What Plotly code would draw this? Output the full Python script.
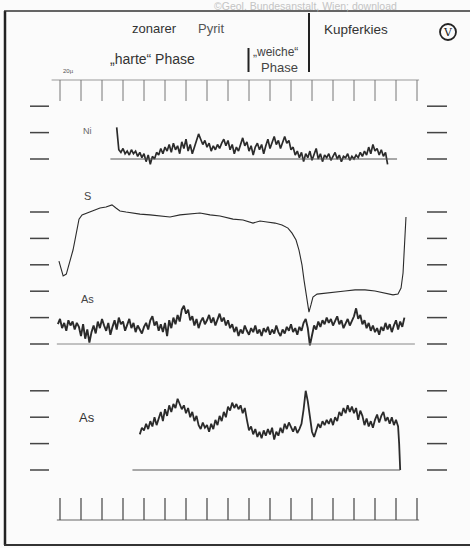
import numpy as np
import plotly.graph_objects as go

# ---------------- data (x in µm along the scan, y in chart divisions above each baseline)
TICKS_UM = [0, 20, 40, 60, 80, 100, 120, 140, 160, 180, 200, 220, 240, 260, 280, 300, 320, 340]

NI_START, NI_STEP = 54, 2
NI = [1.2, 0.35, 0.25, 0.4, 0.2, 0.3, 0.15, 0.35, 0.2, 0.3,
      0.1, 0.25, 0.05, 0.2, -0.1, 0.15, -0.2, 0.1, 0.0, 0.25,
      0.15, 0.4, 0.2, 0.45, 0.3, 0.55, 0.25, 0.6, 0.35, 0.5,
      0.2, 0.65, 0.4, 0.75, 0.3, 0.55, 0.2, 0.45, 0.7, 0.95,
      0.75, 0.55, 0.7, 0.45, 0.6, 0.3, 0.5, 0.35, 0.55, 0.4,
      0.6, 0.75, 0.5, 0.7, 0.35, 0.55, 0.2, 0.45, 0.3, 0.6,
      0.8, 0.5, 0.65, 0.3, 0.5, 0.15, 0.45, 0.6, 0.35, 0.55,
      0.2, 0.5, 0.75, 0.4, 0.6, 0.85, 0.55, 0.7, 0.4, 0.65,
      0.85, 0.6, 0.7, 0.35, 0.45, 0.15, 0.3, 0.05, 0.25, -0.1,
      0.2, 0.05, 0.3, -0.05, 0.15, 0.4, 0.0, 0.2, -0.1, 0.15,
      0.05, 0.2, -0.05, 0.1, 0.25, 0.0, 0.15, -0.1, 0.1, 0.05,
      0.2, -0.05, 0.1, 0.0, 0.15, 0.05, 0.25, 0.1, 0.3, 0.15,
      0.45, 0.2, 0.55, 0.3, 0.4, 0.15, 0.35, 0.1, 0.25, -0.2]
NI_BASE = [48, 321]

S_X = [-1, 1, 3, 6, 9.5, 12.4, 14.3, 16.2, 18.1, 21, 25.7, 31.4, 38.1, 43.8, 49.5, 53.3,
       57.1, 62.9, 68.6, 76.2, 85.7, 95.2, 104.8, 114.3, 123.8, 133.3, 142.9, 152.4,
       164.8, 174.3, 183.8, 190.5, 197.1, 204.8, 211.4, 217.1, 221, 224.8, 227.6,
       230.5, 232.4, 234.3, 236.2, 237.1, 239, 240.9, 244.8, 252.4, 261.9, 271.4,
       281, 290.5, 300, 309.5, 317.1, 321.9, 324.8, 326.7, 327.6, 328.6, 329.5]
S_Y = [3.14, 2.8, 2.58, 2.65, 3.11, 3.56, 3.94, 4.39, 4.73, 4.89, 4.96, 5.04, 5.15, 5.19,
       5.27, 5.15, 5.04, 5.0, 4.96, 4.92, 4.89, 4.85, 4.81, 4.89, 4.92, 4.96, 4.89, 4.85,
       4.73, 4.7, 4.58, 4.66, 4.62, 4.58, 4.51, 4.39, 4.2, 3.94, 3.56, 2.99, 2.42, 1.86,
       1.36, 1.21, 1.48, 1.78, 1.89, 1.93, 1.97, 2.01, 2.05, 2.05, 2.01, 1.93, 1.86, 1.89,
       2.12, 2.69, 3.37, 4.13, 4.81]

AS1_START, AS1_STEP = -2, 2
AS1 = [0.75, 0.95, 0.6, 0.8, 0.5, 0.9, 0.7, 0.85, 0.55, 0.8,
       0.65, 0.3, 0.75, 0.2, 0.55, 0.05, 0.45, 0.7, 0.4, 0.85,
       0.6, 0.95, 0.7, 0.5, 0.8, 0.35, 0.65, 0.9, 0.55, 1.0,
       0.75, 0.85, 0.5, 0.7, 0.95, 0.6, 0.8, 0.45, 0.7, 0.55,
       0.4, 0.65, 0.8, 0.55, 0.9, 1.05, 0.7, 0.85, 0.5, 0.75,
       0.45, 0.8, 0.3, 0.9, 0.6, 1.0, 0.75, 1.1, 0.85, 1.3,
       1.45, 1.15, 1.3, 0.9, 1.05, 0.7, 0.95, 0.6, 0.85, 1.0,
       0.75, 0.9, 1.1, 0.8, 1.0, 0.7, 0.95, 1.15, 0.85, 1.0,
       0.7, 0.9, 0.6, 0.75, 0.45, 0.65, 0.3, 0.55, 0.4, 0.7,
       0.5, 0.35, 0.6, 0.45, 0.7, 0.4, 0.55, 0.3, 0.6, 0.45,
       0.65, 0.35, 0.55, 0.4, 0.7, 0.45, 0.3, 0.55, 0.4, 0.65,
       0.5, 0.75, 0.45, 0.6, 0.35, 0.65, 0.5, 0.8, 0.95, 0.6,
       -0.05, 0.3, 0.7, 0.55, 0.85, 0.65, 0.9, 0.75, 1.0, 0.8,
       0.95, 0.7, 0.85, 1.05, 0.75, 0.9, 0.6, 0.8, 0.95, 0.7,
       0.85, 1.05, 1.35, 0.95, 1.1, 0.75, 0.9, 0.6, 0.8, 0.5,
       0.7, 0.45, 0.6, 0.35, 0.65, 0.5, 0.8, 0.55, 0.75, 0.45,
       0.7, 0.9, 0.55, 0.85, 0.65, 1.0]
AS1_BASE = [-3, 338]

AS2_START, AS2_STEP = 76, 2
AS2 = [1.35, 1.6, 1.5, 1.75, 1.55, 1.85, 1.65, 2.0, 1.7, 1.95,
       2.2, 1.85, 2.3, 2.05, 2.45, 2.2, 2.5, 2.35, 2.7, 2.5,
       2.3, 2.45, 2.15, 2.35, 2.0, 2.2, 1.85, 2.05, 1.7, 1.55,
       1.8, 1.6, 1.7, 1.45, 1.75, 1.55, 1.9, 1.7, 2.05, 1.85,
       2.2, 2.0, 2.4, 2.25, 2.55, 2.35, 2.5, 2.3, 2.45, 2.15,
       2.35, 1.9, 1.5, 1.65, 1.35, 1.55, 1.25, 1.45, 1.2, 1.5,
       1.3, 1.55, 1.35, 1.6, 1.15, 1.45, 1.3, 1.6, 1.4, 1.75,
       1.55, 1.8, 1.6, 1.45, 1.65, 1.4, 1.55, 1.75, 2.3, 3.0,
       2.6, 1.9, 1.45, 1.25, 1.55, 1.75, 1.6, 1.85, 1.7, 1.9,
       1.75, 1.95, 1.7, 2.0, 1.85, 2.2, 2.05, 2.35, 2.15, 2.45,
       2.2, 2.4, 2.15, 2.35, 1.9, 2.25, 2.05, 1.7, 1.95, 1.65,
       1.85, 1.6, 1.9, 2.1, 1.8, 2.05, 2.2, 1.85, 2.0, 1.75,
       2.0, 1.7, 1.9, 1.65]
AS2_END_X = [323, 324]
AS2_END_Y = [1.0, 0.0]
AS2_BASE = [69, 324]

NI_MARKS = [0, 1, 2]
MID_MARKS = [0, 1, 2, 3, 4, 5]
BOT_MARKS = [0, 1, 2, 3]

# ---------------- figure
W, H = 470, 548
INK = "#2b2b2b"
fig = go.Figure()

def xs(start, step, n):
    return [start + step * i for i in range(n)]

fig.add_trace(go.Scatter(x=xs(NI_START, NI_STEP, len(NI)), y=NI, yaxis="y",
                         mode="lines", line=dict(color=INK, width=1.7)))
fig.add_trace(go.Scatter(x=NI_BASE, y=[0, 0], yaxis="y", mode="lines",
                         line=dict(color="#555", width=1)))
fig.add_trace(go.Scatter(x=S_X, y=S_Y, yaxis="y2", mode="lines",
                         line=dict(color=INK, width=1.1)))
fig.add_trace(go.Scatter(x=xs(AS1_START, AS1_STEP, len(AS1)), y=AS1, yaxis="y2",
                         mode="lines", line=dict(color=INK, width=1.9)))
fig.add_trace(go.Scatter(x=AS1_BASE, y=[0, 0], yaxis="y2", mode="lines",
                         line=dict(color="#888", width=1)))
fig.add_trace(go.Scatter(x=xs(AS2_START, AS2_STEP, len(AS2)) + AS2_END_X,
                         y=AS2 + AS2_END_Y, yaxis="y3",
                         mode="lines", line=dict(color=INK, width=1.8)))
fig.add_trace(go.Scatter(x=AS2_BASE, y=[0, 0], yaxis="y3", mode="lines",
                         line=dict(color="#555", width=1)))

shapes = []
# side division marks
for yref, marks in (("y", NI_MARKS), ("y2", MID_MARKS), ("y3", BOT_MARKS)):
    for m in marks:
        for x0, x1 in ((30, 49), (427, 447)):
            shapes.append(dict(type="line", xref="paper", yref=yref,
                               x0=x0 / W, x1=x1 / W, y0=m, y1=m,
                               line=dict(color="#444", width=1.5)))
# scale rulers (top and bottom)
def py(p):
    return 1 - p / H
shapes.append(dict(type="line", xref="x", yref="paper", x0=-8, x1=342,
                   y0=py(80), y1=py(80), line=dict(color="#999", width=1)))
shapes.append(dict(type="line", xref="x", yref="paper", x0=-3, x1=342,
                   y0=py(520), y1=py(520), line=dict(color="#666", width=1)))
for t in TICKS_UM:
    shapes.append(dict(type="line", xref="x", yref="paper", x0=t, x1=t,
                       y0=py(80), y1=py(101), line=dict(color="#777", width=1)))
    shapes.append(dict(type="line", xref="x", yref="paper", x0=t, x1=t,
                       y0=py(498), y1=py(520), line=dict(color="#444", width=1.2)))
# frame
shapes.append(dict(type="line", xref="paper", yref="paper", x0=5 / W, x1=5 / W,
                   y0=py(545), y1=py(11), line=dict(color="#222", width=2.5)))
shapes.append(dict(type="line", xref="paper", yref="paper", x0=4 / W, x1=1,
                   y0=py(11), y1=py(11), line=dict(color="#333", width=1.5)))
shapes.append(dict(type="line", xref="paper", yref="paper", x0=4 / W, x1=1,
                   y0=py(545), y1=py(545), line=dict(color="#333", width=2)))
# header separators
shapes.append(dict(type="line", xref="paper", yref="paper", x0=309 / W, x1=309 / W,
                   y0=py(72), y1=py(13), line=dict(color="#222", width=2)))
shapes.append(dict(type="line", xref="paper", yref="paper", x0=248.5 / W, x1=248.5 / W,
                   y0=py(72), y1=py(48), line=dict(color="#222", width=2)))
# circled numeral
shapes.append(dict(type="circle", xref="paper", yref="paper",
                   x0=440 / W, x1=456 / W, y0=py(40), y1=py(24),
                   line=dict(color="#222", width=1.8)))

def txt(s, x, y, size, color="#333", anchor="left", family="Liberation Sans, Arial, sans-serif"):
    return dict(text=s, xref="paper", yref="paper", x=x / W, y=py(y),
                xanchor=anchor, yanchor="middle", showarrow=False,
                font=dict(size=size, color=color, family=family))

ann = [
    txt("©Geol. Bundesanstalt, Wien; download", 212, 5.5, 10.5, "#c4c4c4"),
    txt("zonarer", 130, 28, 13, "#333"),
    txt("Pyrit", 196, 28, 13, "#555"),
    txt("Kupferkies", 322, 29, 13.5, "#333"),
    txt("„harte“ Phase", 108, 59, 14, "#333"),
    txt("„weiche“", 251, 52, 12, "#444"),
    txt("Phase", 259, 68, 13, "#444"),
    txt("20µ", 61, 71, 6, "#555"),
    txt("V", 448, 32, 11, "#222", "center", "DejaVu Serif, serif"),
    txt("Ni", 81, 131, 9, "#666"),
    txt("S", 82, 196, 11, "#444"),
    txt("As", 79, 299, 11, "#444"),
    txt("As", 77, 417, 13, "#333"),
]

xr = [-60 / 1.05, (W - 60) / 1.05]
def yr(base_px):
    d = 26.4
    return [-(H - base_px) / d, base_px / d]

hidden = dict(visible=False, showgrid=False, zeroline=False, fixedrange=True)
fig.update_layout(
    width=W, height=H, margin=dict(l=0, r=0, t=0, b=0),
    paper_bgcolor="#fbfbfb", plot_bgcolor="#fbfbfb", showlegend=False,
    xaxis=dict(range=xr, domain=[0, 1], **hidden),
    yaxis=dict(range=yr(159), domain=[0, 1], **hidden),
    yaxis2=dict(range=yr(344), overlaying="y", **hidden),
    yaxis3=dict(range=yr(470), overlaying="y", **hidden),
    shapes=shapes, annotations=ann,
)
fig.write_html("out.html", config={"displayModeBar": False},
               post_script="document.body.style.margin='0';document.body.style.overflow='hidden';")
